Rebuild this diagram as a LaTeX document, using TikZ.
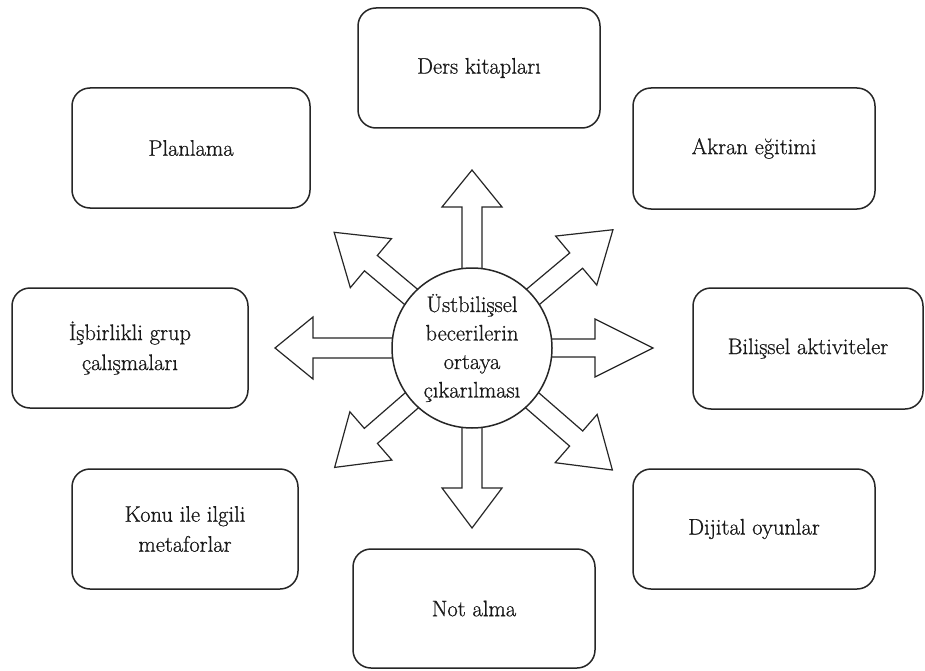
\documentclass[tikz,border=0pt]{standalone}
\usepackage{fontspec}
\newfontfamily\dtfont{Latin Modern Roman}[FakeBold=0.7]
% block arrow: angle, head base, tip, shaft half width, head half width
\newcommand\blockarr[5]{%
  \begin{scope}[shift={(ctr)}, rotate=#1]
    \draw[barrow] (60,-#4) -- (#2,-#4) -- (#2,-#5) -- (#3,0) -- (#2,#5) -- (#2,#4) -- (60,#4) -- cycle;
  \end{scope}}
\begin{document}
\begin{tikzpicture}[x=1pt,y=-1pt,
  box/.style={draw=black!85, line width=1.5pt, rounded corners=18pt, align=center,
              font=\dtfont\fontsize{22.5}{30}\selectfont, text=black!90, inner sep=0pt, fill=white},
  barrow/.style={draw=black!85, line width=1.2pt, fill=white, line join=miter},
  hub/.style={draw=black!85, circle, line width=1.5pt, fill=white, minimum size=160pt,
              inner sep=0pt, align=center, font=\dtfont\fontsize{22.5}{28.5}\selectfont, text=black!90}]
\useasboundingbox (0,0) rectangle (925,671);
\fill[white] (0,0) rectangle (925,671);
\coordinate (ctr) at (472,348);
% arrows
\blockarr{0}{123}{181}{9}{29}
\blockarr{90}{141}{178}{10}{30}
\blockarr{180}{159}{197}{10}{31}
\blockarr{270}{140}{180}{10}{30}
\blockarr{40}{136}{184}{10}{32}
\blockarr{140}{132}{180}{10}{32}
\blockarr{221}{134}{182}{10}{32}
\blockarr{319}{138}{186}{10}{32}
% hub
\node[hub] (c) at (ctr) {Üstbilişsel\\becerilerin\\ortaya\\çıkarılması};
% boxes
\node[box, minimum width=242pt, minimum height=120pt] (ders) at (479,68) {Ders kitapları};
\node[box, minimum width=242pt, minimum height=121pt] (akran) at (754,148.5) {Akran eğitimi};
\node[box, minimum width=238pt, minimum height=120pt] (plan) at (191,148) {Planlama};
\node[box, minimum width=236pt, minimum height=120pt] (isb) at (130,348) {İşbirlikli grup\\çalışmaları};
\node[box, minimum width=230pt, minimum height=121pt] (bil) at (808,348.5) {Bilişsel aktiviteler};
\node[box, minimum width=226pt, minimum height=120pt] (konu) at (185,529) {Konu ile ilgili\\metaforlar};
\node[box, minimum width=242pt, minimum height=120pt] (dij) at (754,529) {Dijital oyunlar};
\node[box, minimum width=242pt, minimum height=119pt] (not) at (474,608.5) {Not alma};
\end{tikzpicture}
\end{document}
